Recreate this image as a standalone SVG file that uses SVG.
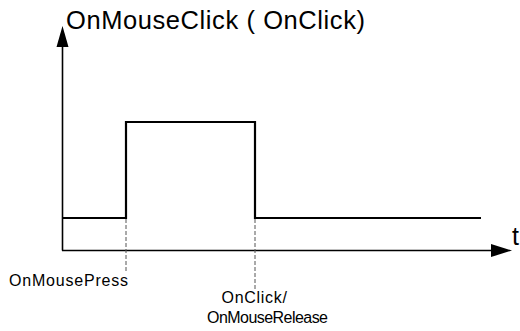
<svg xmlns="http://www.w3.org/2000/svg" width="520" height="331" viewBox="0 0 520 331">
<style>
.ax{stroke:#000;stroke-width:1.6;fill:none}
.sig{stroke:#000;stroke-width:2.2;fill:none}
.dash{stroke:#555;stroke-width:1;stroke-dasharray:4 2;fill:none}
text{font-family:"Liberation Sans",Arial,sans-serif;fill:#000}
</style>
<rect width="520" height="331" fill="#fff"/>
<g id="connectors">
<line class="ax" x1="62.5" y1="250.5" x2="62.5" y2="45"/>
<polygon points="62.5,26 56.5,47 68.5,47" fill="#000"/>
<line class="ax" x1="62" y1="250.5" x2="492" y2="250.5"/>
<polygon points="512,250.5 491,244 491,257" fill="#000"/>
<polyline class="sig" points="62,218 126,218 126,122 255,122 255,218 481,218"/>
<line class="dash" x1="126" y1="219" x2="126" y2="271"/>
<line class="dash" x1="255" y1="219" x2="255" y2="289"/>
</g>
<g id="title"><text x="66" y="29" font-size="25.5" textLength="299" lengthAdjust="spacing">OnMouseClick ( OnClick)</text></g>
<g id="t-label"><text x="512" y="245" font-size="25">t</text></g>
<g id="press"><text x="9" y="285.5" font-size="16" textLength="119" lengthAdjust="spacing">OnMousePress</text></g>
<g id="release">
<text x="221.5" y="303" font-size="16" textLength="65.5" lengthAdjust="spacing">OnClick/</text>
<text x="207" y="323" font-size="16" textLength="121" lengthAdjust="spacing">OnMouseRelease</text>
</g>
</svg>
